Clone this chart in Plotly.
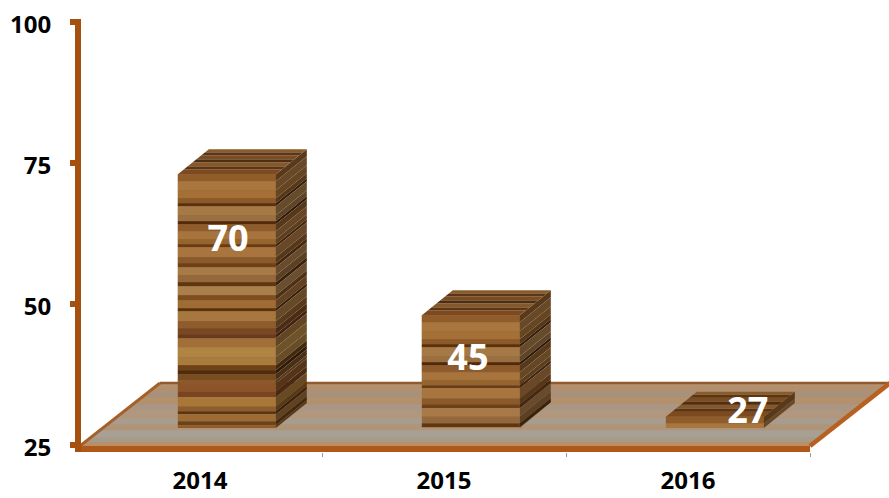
import plotly.graph_objects as go

years = ["2014", "2015", "2016"]
values = [70, 45, 27]
y_ticks = [25, 50, 75, 100]
label_heights = [61.0, 39.9, 30.5]
label_shift = [0.115, 0.098, 0.245]

# scale of the picture: pixels per data unit
PX_X = 244.0
PX_Y = 141.0 / 25.0
dx = lambda px: px / PX_X
dy = lambda px: px / PX_Y

FLOOR_LIFT = 3            # front of the bars stands this far above the axis base
BAR_SHIFT = 0.11
BAR_WIDTH = 98 / PX_X
DEPTH_X, DEPTH_Y = dx(31), dy(25)
AXIS = "#a5500f"

WOOD = [
    (7, "#8f5c2a"), (9, "#a8763f"), (8, "#a47038"), (5, "#8c5a28"), (3, "#5a3010"),
    (9, "#a67a46"), (6, "#9a7040"), (3, "#52290c"), (7, "#8d5b2c"), (8, "#a6743c"),
    (5, "#96652f"), (3, "#6a3c16"), (10, "#a8753e"), (6, "#8b5a2a"), (4, "#6e4018"),
    (8, "#a87a48"), (7, "#94683a"), (4, "#5e3612"), (9, "#ab7f4c"), (5, "#7d4e22"),
    (8, "#a06c36"), (3, "#5a3210"), (10, "#a67840"), (7, "#8e5c2c"), (6, "#7a4820"),
    (4, "#6a3a20"), (9, "#a07038"), (10, "#b08544"), (8, "#a97c3e"), (5, "#6e4216"),
    (4, "#4e2c0e"), (6, "#7a4c22"), (3, "#8a5a2c"), (8, "#8c5428"), (6, "#7a4420"),
    (9, "#a87838"), (5, "#8f5e28"), (3, "#5c3412"), (7, "#9c6c34"), (4, "#6c4218"),
]
TOP_WOOD = [(3, "#8a5c2c"), (3, "#5a3614"), (4, "#7a4c22"), (3, "#4e2e10"),
            (4, "#85572a"), (3, "#5c3614"), (5, "#7c4a1e")]
FLOOR = [(3, "#b8936c"), (6, "#b09070"), (5, "#a8917c"), (7, "#b3906e"), (6, "#a99684"),
         (8, "#b0977e"), (6, "#a89c8e"), (6, "#b09478"), (7, "#a8a095"), (5, "#a89a88"),
         (4, "#b88f66")]


def shade(color, f):
    r, g, b = (int(color[i:i + 2], 16) for i in (1, 3, 5))
    return "#%02x%02x%02x" % (int(r * f), int(g * f), int(b * f))


fig = go.Figure()

# the bars themselves (front faces); texture is laid over them
fig.add_trace(go.Bar(
    x=[i + BAR_SHIFT for i in range(len(years))],
    y=[v - 25 for v in values],
    base=25 + FLOOR_LIFT,
    width=BAR_WIDTH,
    marker=dict(color="#96652f", line=dict(width=0)),
    hoverinfo="skip",
))


def poly(pts, color, width=0):
    xs = [p[0] for p in pts]
    ys = [p[1] for p in pts]
    fig.add_trace(go.Scatter(x=xs, y=ys, mode="lines", fill="toself", fillcolor=color,
                             line=dict(width=width, color=color), hoverinfo="skip"))


def edge(pts, color, width):
    fig.add_trace(go.Scatter(x=[p[0] for p in pts], y=[p[1] for p in pts], mode="lines",
                             line=dict(width=width, color=color), hoverinfo="skip"))


# floor
f_l, f_r = -0.5 + dx(2), 2.5
f_y0, f_dx, f_dy = 25 - dy(1), dx(80), dy(63)
t = 0.0
total = sum(h for h, _ in FLOOR)
for h, c in reversed(FLOOR):
    t1 = t + h / total
    poly([(f_l + f_dx * t, f_y0 + f_dy * t), (f_r + f_dx * t, f_y0 + f_dy * t),
          (f_r + f_dx * t1, f_y0 + f_dy * t1), (f_l + f_dx * t1, f_y0 + f_dy * t1)], c, 0.5)
    t = t1
edge([(f_l + f_dx, f_y0 + f_dy), (f_r + f_dx, f_y0 + f_dy)], "#8f5a2c", 2.5)
edge([(f_l, f_y0), (f_l + f_dx, f_y0 + f_dy)], "#a5602a", 3)
edge([(f_r, f_y0), (f_r + f_dx, f_y0 + f_dy)], "#b8601f", 4.5)
edge([(-0.5, 25 - dy(4)), (f_r, 25 - dy(4))], "#b0571a", 6)

# wooden faces of each bar
for i, v in enumerate(values):
    left = i + BAR_SHIFT - BAR_WIDTH / 2
    right = left + BAR_WIDTH
    base = 25 + FLOOR_LIFT
    top = v + FLOOR_LIFT

    y = top
    k = 0
    while y > base:
        h, c = WOOD[k % len(WOOD)]
        y2 = max(base, y - dy(h))
        poly([(left, y), (right, y), (right, y2), (left, y2)], c)
        poly([(right, y), (right + DEPTH_X, y + DEPTH_Y),
              (right + DEPTH_X, y2 + DEPTH_Y), (right, y2)], shade(c, 0.62))
        y = y2
        k += 1

    d = 0.0
    tot = sum(h for h, _ in TOP_WOOD)
    for h, c in reversed(TOP_WOOD):
        d1 = d + h / tot
        poly([(left + DEPTH_X * d, top + DEPTH_Y * d), (right + DEPTH_X * d, top + DEPTH_Y * d),
              (right + DEPTH_X * d1, top + DEPTH_Y * d1), (left + DEPTH_X * d1, top + DEPTH_Y * d1)], c)
        d = d1

# value labels
fig.add_trace(go.Scatter(
    x=[i + s for i, s in enumerate(label_shift)],
    y=label_heights,
    text=[str(v) for v in values],
    mode="text",
    textposition="middle center",
    textfont=dict(family="Open Sans", size=36, color="white", weight=700),
    cliponaxis=False,
    hoverinfo="skip",
))

fig.update_layout(
    width=889, height=498,
    margin=dict(l=81, r=0, t=19, b=46, pad=0, autoexpand=False),
    paper_bgcolor="white", plot_bgcolor="rgba(0,0,0,0)",
    showlegend=False,
    xaxis=dict(
        automargin=False,
        range=[-0.5 + dx(3), 2.5 + dx(79)],
        tickmode="array", tickvals=[0, 1, 2], ticktext=years,
        ticks="", showgrid=False, zeroline=False, showline=False,
        ticklabelstandoff=12,
        tickfont=dict(family="Open Sans", size=24, color="black", weight=700),
        minor=dict(tickmode="array", tickvals=[0.5, 1.5, 2.5], ticks="outside",
                   ticklen=4, tickwidth=1, tickcolor="#9a9a9a", showgrid=False),
    ),
    yaxis=dict(
        automargin=False,
        range=[25 - dy(7), 100 + dy(3)],
        tickmode="array", tickvals=y_ticks,
        ticks="outside", ticklen=5, tickwidth=6, tickcolor=AXIS,
        showline=True, linewidth=6, linecolor=AXIS,
        showgrid=False, zeroline=False,
        ticklabelstandoff=14, ticklabelshift=3,
        tickfont=dict(family="Open Sans", size=24, color="black", weight=700),
    ),
)

fig.write_html("out.html", config=dict(displayModeBar=False),
               post_script="document.body.style.margin='0';")
